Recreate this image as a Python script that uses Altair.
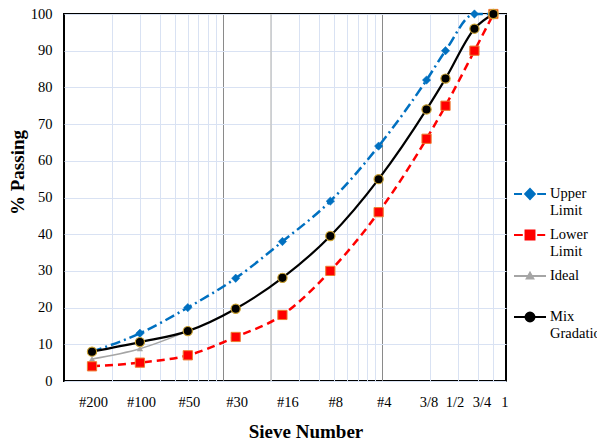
import altair as alt
import pandas as pd

# ---------------- data ----------------
sieve_labels = ["#200", "#100", "#50", "#30", "#16", "#8", "#4", "3/8", "1/2", "3/4", "1"]
sieve_sizes = [0.075, 0.15, 0.3, 0.6, 1.18, 2.36, 4.75, 9.5, 12.5, 19, 25]
upper_limit = [8, 13, 20, 28, 38, 49, 64, 82, 90, 100, 100]
lower_limit = [4, 5, 7, 12, 18, 30, 46, 66, 75, 90, 100]
ideal = [6, 8.8, 13.6]
mix_gradation = [8, 10.6, 13.6, 19.7, 28.1, 39.5, 55, 74, 82.4, 96, 100]

series_names = ["Upper Limit", "Lower Limit", "Ideal", "Mix Gradation"]
series_values = [upper_limit, lower_limit, ideal, mix_gradation]

grid_values = [0.1, 0.15, 0.2, 0.25, 0.3, 0.35, 0.4, 0.45, 0.5,
               1, 1.5, 2, 2.5, 3, 3.5, 4, 4.5, 5, 10, 15, 20, 25]
major_grid = [0.5, 5]
axis_cross = [1]
y_ticks = [0, 10, 20, 30, 40, 50, 60, 70, 80, 90, 100]
x_domain = [0.05, 30]

# ---------------- styles ----------------
FONT = "Liberation Serif"
line_styles = {
    "Upper Limit": dict(color="#0070C0", strokeWidth=2.5, strokeDash=[10, 4, 2, 4]),
    "Lower Limit": dict(color="#FF0000", strokeWidth=2.5, strokeDash=[8, 5]),
    "Ideal": dict(color="#A5A5A5", strokeWidth=1.5),
    "Mix Gradation": dict(color="#000000", strokeWidth=2.2),
}
point_styles = {
    "Upper Limit": dict(shape="diamond", size=70, fill="#0070C0", stroke="#0070C0", strokeWidth=0.5),
    "Lower Limit": dict(shape="square", size=85, fill="#FF0000", stroke="#ED7D31", strokeWidth=1),
    "Ideal": dict(shape="triangle-up", size=30, fill="#A5A5A5", stroke="#A5A5A5", strokeWidth=0.5),
    "Mix Gradation": dict(shape="circle", size=85, fill="#000000", stroke="#C9A030", strokeWidth=1.2),
}
legend_paths = [
    "M-1,0H-0.5M-0.3,0L0,-0.32L0.3,0L0,0.32ZM0.45,0H1",
    "M-1,0H-0.45M-0.28,-0.28H0.28V0.28H-0.28ZM0.45,0H0.95",
    "M-1,0H1M-0.2,0.15L0,-0.2L0.2,0.15Z",
    "M-1,0H1M0.28,0A0.28,0.28 0 1,1 -0.28,0A0.28,0.28 0 1,1 0.28,0Z",
]
legend_stroke = ["#0070C0", "#FF0000", "#A5A5A5", "#000000"]
legend_fill = ["#0070C0", "#FF0000", "#A5A5A5", "#000000"]

# ---------------- axes ----------------
all_x_values = sorted(set(grid_values + sieve_sizes))
label_expr = " : ".join(
    f"datum.value == {v} ? '{l}'" for v, l in zip(sieve_sizes, sieve_labels)
) + " : ''"
grid_list = "[" + ",".join(str(v) for v in grid_values) + "]"

x_axis = alt.Axis(
    values=all_x_values,
    labelExpr=label_expr,
    labelFont=FONT, labelFontSize=14.5, labelColor="black",
    labelPadding=14, labelAngle=0, labelOverlap=False,
    labelOffset={"condition": [
        {"test": "datum.value >= 1 && datum.value < 9", "value": 5},
        {"test": "datum.value == 9.5", "value": 2},
        {"test": "datum.value == 12.5", "value": 9},
        {"test": "datum.value == 19", "value": 7},
        {"test": "datum.value == 25", "value": 11},
    ], "value": 1},
    ticks=False, domain=False,
    grid=True,
    gridColor={"condition": [
        {"test": "datum.value == 0.5 || datum.value == 5", "value": "#8a8a8a"},
        {"test": f"indexof({grid_list}, datum.value) < 0", "value": "transparent"},
    ], "value": "#d9e2f3"},
    gridWidth=1,
    title="Sieve Number",
    titleFont=FONT, titleFontSize=19, titleFontWeight="bold", titleColor="black",
    titleX=241.5, titleY=56, titleBaseline="alphabetic", titleAnchor="start", titleAlign="center",
)
y_axis = alt.Axis(
    values=y_ticks,
    labelFont=FONT, labelFontSize=14.5, labelColor="black", labelPadding=12,
    ticks=False, domain=False,
    grid=True, gridColor="#d9e2f3", gridWidth=1,
    title="% Passing",
    titleFont=FONT, titleFontSize=19, titleFontWeight="bold", titleColor="black",
    titleX=-47, titleY=158, titleAngle=270, titleAlign="center", titleBaseline="middle",
)

x_enc = alt.X("size:Q", scale=alt.Scale(type="log", domain=x_domain, nice=False), axis=x_axis)
y_enc = alt.Y("pct:Q", scale=alt.Scale(domain=[0, 100], nice=False, zero=False), axis=y_axis)

# ---------------- layers ----------------
layers = []
cross_df = pd.DataFrame({"size": axis_cross})
layers.append(
    alt.Chart(cross_df).mark_rule(color="#c8c8c8", strokeWidth=1.5).encode(x=x_enc)
)

frames = {}
for name, vals in zip(series_names, series_values):
    frames[name] = pd.DataFrame({
        "size": sieve_sizes[:len(vals)],
        "pct": vals,
        "series": name,
    })

line_order = ["Ideal", "Upper Limit", "Lower Limit", "Mix Gradation"]
for name in line_order:
    st = line_styles[name]
    layers.append(
        alt.Chart(frames[name]).mark_line(interpolate="monotone", **st).encode(x=x_enc, y=y_enc)
    )
point_order = ["Ideal", "Upper Limit", "Lower Limit", "Mix Gradation"]
for name in point_order:
    st = point_styles[name]
    layers.append(
        alt.Chart(frames[name]).mark_point(filled=True, opacity=1, **st).encode(x=x_enc, y=y_enc)
    )

leg = alt.Legend(
    title=None, orient="none", legendX=449, legendY=163,
    symbolSize=1024, symbolStrokeWidth=2,
    labelFont=FONT, labelFontSize=14.5, labelColor="black",
    labelBaseline="middle", labelOffset=3, labelLimit=300,
    rowPadding=1,
    labelExpr="[split(datum.label, ' ')[0], length(split(datum.label, ' ')) > 1 ? split(datum.label, ' ')[1] : ' ']",
)
legend_df = pd.DataFrame({"series": series_names})
layers.append(
    alt.Chart(legend_df).mark_point(filled=False, opacity=1).encode(
        shape=alt.Shape("series:N", scale=alt.Scale(domain=series_names, range=legend_paths), legend=leg),
        color=alt.Color("series:N", scale=alt.Scale(domain=series_names, range=legend_stroke), legend=leg),
        fill=alt.Fill("series:N", scale=alt.Scale(domain=series_names, range=legend_fill), legend=leg),
    ).transform_filter("false")
)

chart = alt.layer(*layers).properties(
    width=442, height=367,
    autosize=alt.AutoSizeParams(type="none"),
    padding={"left": 56, "top": 6, "right": 91, "bottom": 58},
    background="white",
).configure_view(stroke="black", strokeWidth=2)

chart.save("out.html", embed_options={"renderer": "svg", "actions": False})
